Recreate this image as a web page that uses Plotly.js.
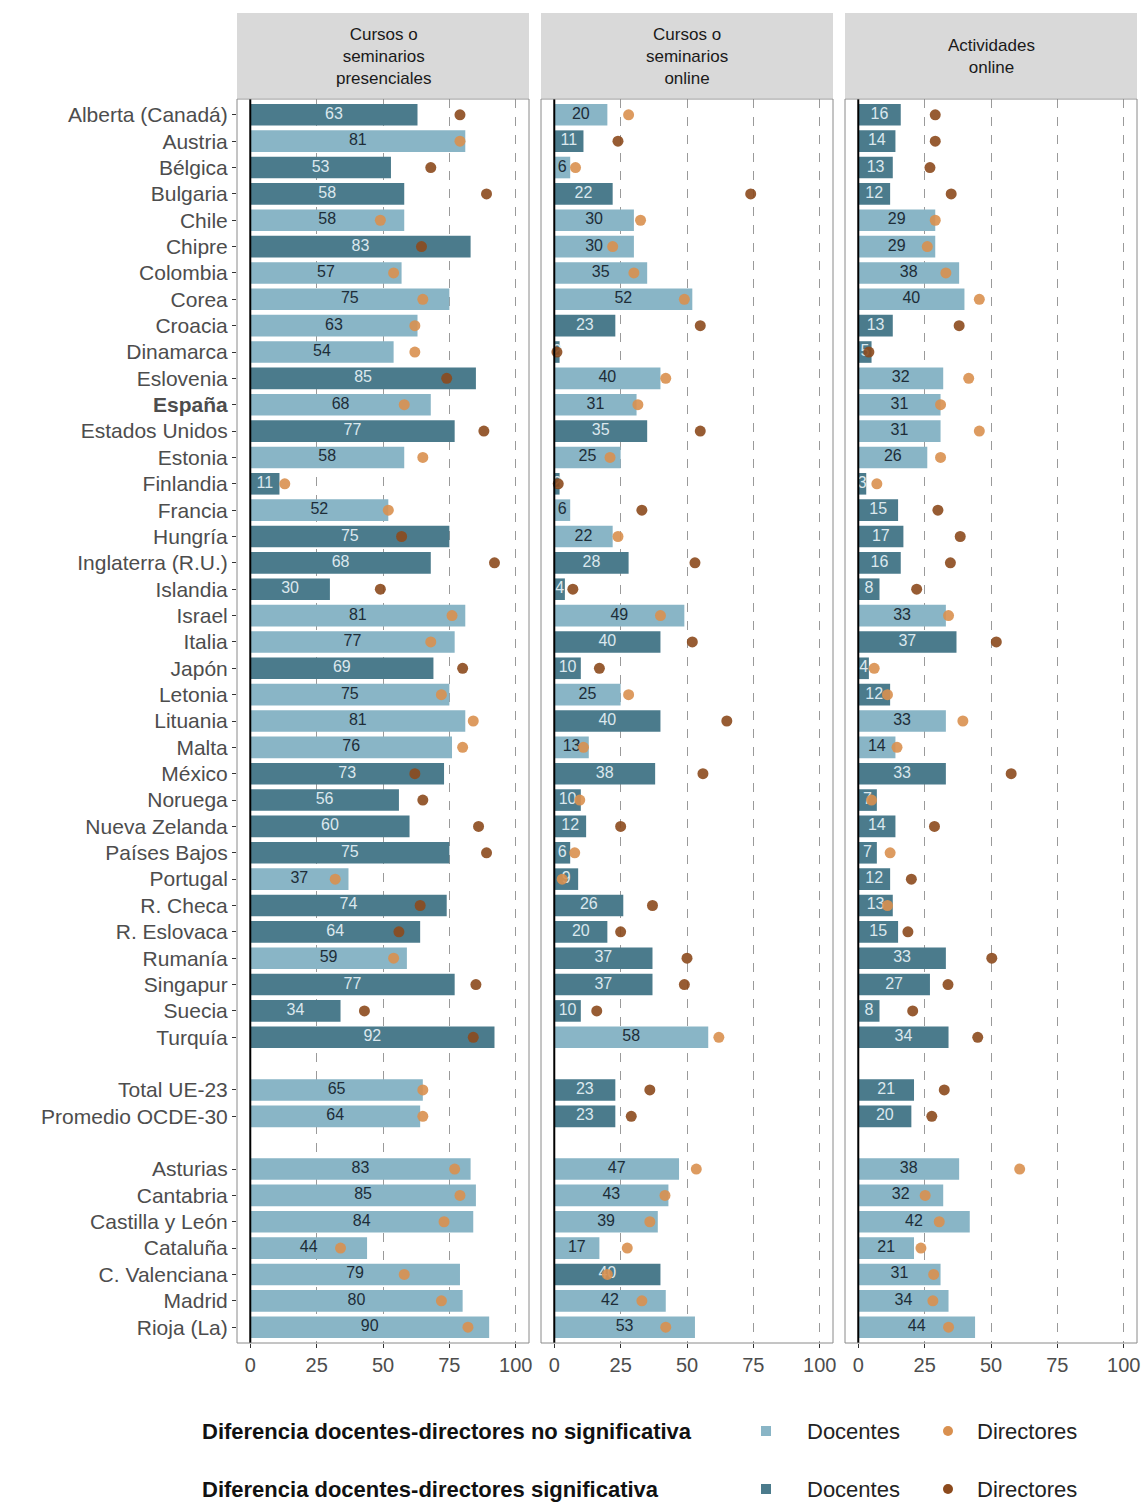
<!DOCTYPE html>
<html><head><meta charset="utf-8">
<script src="https://cdn.plot.ly/plotly-3.0.1.min.js"></script>
<style>body{margin:0;background:#fff}#chart{width:1147px;height:1502px}</style>
</head><body><div id="chart"></div>
<script>
// ---------- DATA ----------
const categories = ["Alberta (Canadá)","Austria","Bélgica","Bulgaria","Chile","Chipre","Colombia","Corea","Croacia","Dinamarca","Eslovenia","España","Estados Unidos","Estonia","Finlandia","Francia","Hungría","Inglaterra (R.U.)","Islandia","Israel","Italia","Japón","Letonia","Lituania","Malta","México","Noruega","Nueva Zelanda","Países Bajos","Portugal","R. Checa","R. Eslovaca","Rumanía","Singapur","Suecia","Turquía","Total UE-23","Promedio OCDE-30","Asturias","Cantabria","Castilla y León","Cataluña","C. Valenciana","Madrid","Rioja (La)"];
const groups = ["pais","pais","pais","pais","pais","pais","pais","pais","pais","pais","pais","pais","pais","pais","pais","pais","pais","pais","pais","pais","pais","pais","pais","pais","pais","pais","pais","pais","pais","pais","pais","pais","pais","pais","pais","pais","total","total","region","region","region","region","region","region","region"];
const panelTitles = ["Cursos o<br>seminarios<br>presenciales","Cursos o<br>seminarios<br>online","Actividades<br>online"];
const xTicks = [0,25,50,75,100];

// Panel 1: Cursos o seminarios presenciales
const docentesPresencial = [63,81,53,58,58,83,57,75,63,54,85,68,77,58,11,52,75,68,30,81,77,69,75,81,76,73,56,60,75,37,74,64,59,77,34,92,65,64,83,85,84,44,79,80,90];
const directoresPresencial = [79,79,68,89,49,64.5,54,65,62,62,74,58,88,65,13,52,57,92,49,76,68,80,72,84,80,62,65,86,89,32,64,56,54,85,43,84,65,65,77,79,73,34,58,72,82];
const sigDocPresencial = [1,0,1,1,0,1,0,0,0,0,1,0,1,0,1,0,1,1,1,0,0,1,0,0,0,1,1,1,1,0,1,1,0,1,1,1,0,0,0,0,0,0,0,0,0];
const sigDirPresencial = [1,0,1,1,0,1,0,0,0,0,1,0,1,0,0,0,1,1,1,0,0,1,0,0,0,1,1,1,1,0,1,1,0,1,1,1,0,0,0,0,0,0,0,0,0];

// Panel 2: Cursos o seminarios online
const docentesOnline = [20,11,6,22,30,30,35,52,23,2,40,31,35,25,2,6,22,28,4,49,40,10,25,40,13,38,10,12,6,9,26,20,37,37,10,58,23,23,47,43,39,17,40,42,53];
const directoresOnline = [28,24,8,74,32.5,22,30,49,55,1,42,31.5,55,21,1.5,33,24,53,7,40,52,17,28,65,11,56,9.6,25,7.7,3,37,25,50,49,16,62,36,29,53.5,41.7,36,27.5,20,33,42];
const sigDocOnline = [0,1,0,1,0,0,0,0,1,1,0,0,1,0,1,0,0,1,1,0,1,1,0,1,0,1,1,1,1,1,1,1,1,1,1,0,1,1,0,0,0,0,1,0,0];
const sigDirOnline = [0,1,0,1,0,0,0,0,1,1,0,0,1,0,1,1,0,1,1,0,1,1,0,1,0,1,0,1,0,0,1,1,1,1,1,0,1,1,0,0,0,0,0,0,0];

// Panel 3: Actividades online
const docentesActividades = [16,14,13,12,29,29,38,40,13,5,32,31,31,26,3,15,17,16,8,33,37,4,12,33,14,33,7,14,7,12,13,15,33,27,8,34,21,20,38,32,42,21,31,34,44];
const directoresActividades = [29,29,27,35,29,26,33,45.6,38,4,41.6,31,45.6,31,7,30,38.4,34.7,22,34,52,6,11,39.4,14.6,57.6,5,28.7,12,20,11,18.7,50.3,33.8,20.5,45,32.4,27.7,60.8,25.2,30.5,23.6,28.4,28.1,34];
const sigDocActividades = [1,1,1,1,0,0,0,0,1,1,0,0,0,0,1,1,1,1,1,0,1,1,1,0,0,1,1,1,1,1,1,1,1,1,1,1,1,1,0,0,0,0,0,0,0];
const sigDirActividades = [1,1,1,1,0,0,0,0,1,1,0,0,0,0,0,1,1,1,1,0,1,0,0,0,0,1,0,1,0,1,0,1,1,1,1,1,1,1,0,0,0,0,0,0,0];

const legendTitles = ["Diferencia docentes-directores no significativa","Diferencia docentes-directores significativa"];
const legendItems = ["Docentes","Directores"];

// ---------- STYLE / LAYOUT ----------
const W = 1147, H = 1502;
const px = v => v / W;
const py = v => 1 - v / H;
const FONT = "Liberation Sans, Arial, Helvetica, sans-serif";
const barLight = "#89b5c6", barDark = "#4b7b8c";
const dotLight = "#d9904f", dotDark = "#8c4a1d";
const txtLight = "#1d2d38", txtDark = "#dbe8ee";

// y positions: gap after countries and after totals
const yPos = [];
let k = 0;
groups.forEach((g, i) => {
  if (i > 0 && g !== groups[i - 1]) k += 1;
  yPos.push(k); k += 1;
});
const yText = categories.map(c => c === "España" ? "<b>España</b>" : c);

const panels = [
  {doc: docentesPresencial, dir: directoresPresencial, sd: sigDocPresencial, sr: sigDirPresencial},
  {doc: docentesOnline, dir: directoresOnline, sd: sigDocOnline, sr: sigDirOnline},
  {doc: docentesActividades, dir: directoresActividades, sd: sigDocActividades, sr: sigDirActividades}
];
const domains = [[237, 529], [541, 833], [845, 1137]];
const axNames = ["x", "x2", "x3"];

const traces = [];
panels.forEach((p, i) => {
  const xa = axNames[i];
  traces.push({
    type: "bar", orientation: "h", x: p.doc, y: yPos, base: 0, width: 0.82,
    marker: {color: p.sd.map(s => s ? barDark : barLight), line: {width: 0}},
    xaxis: xa, yaxis: "y", hoverinfo: "skip", showlegend: false
  });
  traces.push({
    type: "scatter", mode: "text", x: p.doc.map(v => v / 2), y: yPos,
    text: p.doc.map(v => String(Math.round(v))),
    textfont: {family: FONT, size: 16, color: p.sd.map(s => s ? txtDark : txtLight)},
    textposition: "middle center",
    xaxis: xa, yaxis: "y", hoverinfo: "skip", showlegend: false, cliponaxis: false
  });
  traces.push({
    type: "scatter", mode: "markers", x: p.dir, y: yPos,
    marker: {size: 11, color: p.sr.map(s => s ? dotDark : dotLight), opacity: 0.9, line: {width: 0}},
    xaxis: xa, yaxis: "y", hoverinfo: "skip", showlegend: false
  });
});

const layout = {
  width: W, height: H,
  margin: {l: 0, r: 0, t: 0, b: 0},
  paper_bgcolor: "#fff", plot_bgcolor: "#fff",
  showlegend: false, barmode: "overlay",
  font: {family: FONT},
  yaxis: {
    domain: [py(1343), py(99)], range: [46.6, -0.6], anchor: "x",
    tickmode: "array", tickvals: yPos, ticktext: yText,
    ticks: "outside", ticklen: 4, tickcolor: "#333", tickwidth: 1,
    tickfont: {family: FONT, size: 21, color: "#4d4d4d"},
    showgrid: false, zeroline: false, showline: false, fixedrange: true
  },
  shapes: [], annotations: []
};
domains.forEach((d, i) => {
  const key = i === 0 ? "xaxis" : "xaxis" + (i + 1);
  layout[key] = {
    domain: [px(d[0]), px(d[1])], range: [-5, 105], anchor: "y",
    tickmode: "array", tickvals: xTicks, ticktext: xTicks.map(String),
    ticks: "outside", ticklen: 4, tickcolor: "#333", tickwidth: 1,
    tickfont: {family: FONT, size: 20, color: "#4d4d4d"},
    showgrid: true, gridcolor: "#9a9a9a", gridwidth: 1, griddash: "dash",
    zeroline: false, showline: false, fixedrange: true
  };
  const xa = axNames[i];
  // zero line
  layout.shapes.push({type: "line", xref: xa, x0: 0, x1: 0, yref: "y domain", y0: 0, y1: 1,
    line: {color: "#000", width: 2}, layer: "above"});
  // panel border
  layout.shapes.push({type: "rect", xref: xa + " domain", x0: 0, x1: 1, yref: "y domain", y0: 0, y1: 1,
    line: {color: "#8a8a8a", width: 1}, fillcolor: "rgba(0,0,0,0)", layer: "above"});
  // strip
  layout.shapes.push({type: "rect", xref: xa + " domain", x0: 0, x1: 1, yref: "paper", y0: py(98), y1: py(13),
    line: {width: 0}, fillcolor: "#d9d9d9", layer: "below"});
  layout.annotations.push({xref: xa + " domain", x: 0.5, yref: "paper", y: py(56),
    text: panelTitles[i], showarrow: false, xanchor: "center", yanchor: "middle",
    font: {family: FONT, size: 17, color: "#1a1a1a"}, align: "center"});
});

// legend (drawn manually)
const legendRows = [1431, 1489];
legendRows.forEach((ry, r) => {
  layout.annotations.push({xref: "paper", yref: "paper", x: px(200), y: py(ry), xanchor: "left", yanchor: "middle",
    text: "<b>" + legendTitles[r] + "</b>", showarrow: false, font: {family: FONT, size: 22, color: "#111"}});
  layout.shapes.push({type: "rect", xref: "paper", yref: "paper", x0: px(761), x1: px(771), y0: py(ry + 5), y1: py(ry - 5),
    line: {width: 0}, fillcolor: r ? barDark : barLight});
  layout.annotations.push({xref: "paper", yref: "paper", x: px(805), y: py(ry), xanchor: "left", yanchor: "middle",
    text: legendItems[0], showarrow: false, font: {family: FONT, size: 22, color: "#222"}});
  layout.shapes.push({type: "circle", xref: "paper", yref: "paper", x0: px(943), x1: px(953), y0: py(ry + 5), y1: py(ry - 5),
    line: {width: 0}, fillcolor: r ? dotDark : dotLight});
  layout.annotations.push({xref: "paper", yref: "paper", x: px(975), y: py(ry), xanchor: "left", yanchor: "middle",
    text: legendItems[1], showarrow: false, font: {family: FONT, size: 22, color: "#222"}});
});

Plotly.newPlot("chart", traces, layout, {staticPlot: true, displayModeBar: false});
</script>
</body></html>
